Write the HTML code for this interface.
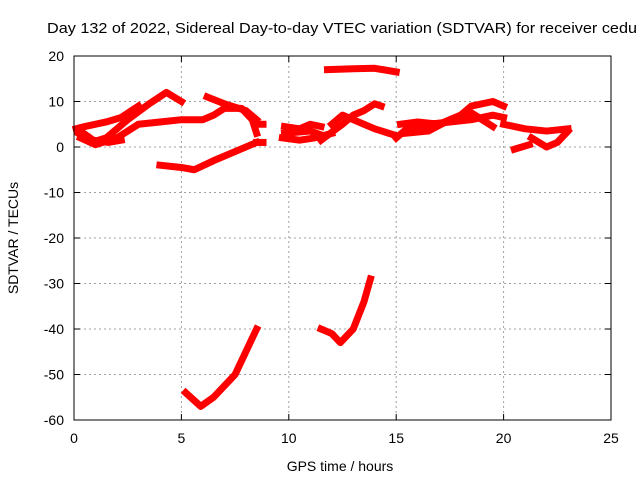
<!DOCTYPE html>
<html><head><meta charset="utf-8"><style>
body{margin:0;background:#fff}
svg{display:block;font-family:"Liberation Sans",sans-serif}
</style></head><body>
<svg id="c" width="640" height="480">
<text x="47" y="33" font-size="15" textLength="590" lengthAdjust="spacingAndGlyphs">Day 132 of 2022, Sidereal Day-to-day VTEC variation (SDTVAR) for receiver cedu</text>
<text x="340" y="471" font-size="14" text-anchor="middle">GPS time / hours</text>
<text transform="translate(18,238) rotate(-90)" font-size="14" text-anchor="middle">SDTVAR / TECUs</text>
<g id="grid"></g><g id="marks"></g><g id="axes"></g>
</svg>
<script>
const xTicks=[0,5,10,15,20,25];
const yTicks=[20,10,0,-10,-20,-30,-40,-50,-60];
const traceA=[[0.1,4],[0.5,4.5],[1.5,5.5],[2.2,6.5],[3,9]];
const traceB=[[0.2,3],[0.8,1],[1.5,2],[2.5,6],[3.5,9.5],[4.3,12],[5,10]];
const traceC=[[0.3,2],[1,0.5],[2,2],[3,5],[4,5.5],[5,6],[6,6],[6.5,7],[7,8.5],[7.8,8.5],[8.3,6],[8.5,3]];
const traceD=[[0.3,3.5],[0.9,1.5],[1.6,1],[2.2,1.5]];
const traceE=[[6.2,11],[7,9.5],[8,8],[8.5,6]];
const traceF=[[4,-4],[5,-4.5],[5.6,-5],[6.5,-3],[7.5,-1],[8.5,1]];
const traceG1=[[8.5,5],[8.8,5]];
const traceG2=[[8.5,1],[8.8,1]];
const traceH1=[[9.8,4.5],[10.5,4],[11,5],[11.5,4.5]];
const traceH2=[[9.7,2],[10.5,1.5],[11.2,2],[12,3]];
const traceH3=[[9.8,3],[11,3.5],[11.6,2.5]];
const traceI1=[[11.5,1.5],[12.5,5],[13,7],[13.5,8],[14,9.5],[14.3,9]];
const traceI2=[[12,5],[12.5,7],[13,6],[14,4],[15,2.5]];
const traceJ=[[11.8,17],[13,17.2],[14,17.3],[15,16.5]];
const traceK1=[[15,2],[15.5,4],[16.5,5],[17.5,5.5],[18.5,6],[19.5,7],[20,6.5]];
const traceK2=[[15.2,5],[16,5.5],[17,5],[18,7],[18.5,9],[19.5,10],[20,9]];
const traceK3=[[15.4,3],[16.5,3.5],[17.5,6],[18.5,7.5],[19.5,4.5]];
const traceL1=[[20,5],[21,4],[22,3.5],[23,4]];
const traceL2=[[21.3,2],[22,0],[22.5,1],[23,3.5]];
const traceL3=[[20.5,-0.5],[21.2,0.5]];
const traceM=[[5.2,-54],[5.9,-57],[6.5,-55],[7.5,-50],[8.5,-40]];
const traceN=[[11.5,-40],[12,-41],[12.4,-43],[13,-40],[13.5,-34],[13.8,-29]];
const traces=[traceA,traceB,traceC,traceD,traceE,traceF,traceG1,traceG2,traceH1,traceH2,traceH3,traceI1,traceI2,traceJ,traceK1,traceK2,traceK3,traceL1,traceL2,traceL3,traceM,traceN];

const X0=74,X1=611,Y0=420,Y1=56;
const sx=v=>X0+(v-0)/(25-0)*(X1-X0);
const sy=v=>Y0-(v+60)/(80)*(Y0-Y1);
const NS="http://www.w3.org/2000/svg";
function mk(t,a,p){const e=document.createElementNS(NS,t);for(const k in a)e.setAttribute(k,a[k]);p.appendChild(e);return e;}
const grid=document.getElementById('grid'),axes=document.getElementById('axes'),marks=document.getElementById('marks');
xTicks.forEach(t=>{
  const x=sx(t);
  if(t>0&&t<25){const g=mk('line',{x1:x,x2:x,y1:Y1,y2:Y0,stroke:'#a0a0a0','stroke-dasharray':'2,3'},grid);
  }
  mk('line',{x1:x,x2:x,y1:Y0,y2:Y0-6,stroke:'#000'},axes);
  mk('line',{x1:x,x2:x,y1:Y1,y2:Y1+6,stroke:'#000'},axes);
  const l=mk('text',{x:x,y:Y0+23,'font-size':14,'text-anchor':'middle'},axes);l.textContent=t;
  
});
yTicks.forEach(t=>{
  const y=sy(t);
  if(t>-60&&t<20){const g=mk('line',{x1:X0,x2:X1,y1:y,y2:y,stroke:'#a0a0a0','stroke-dasharray':'2,3'},grid);
  }
  mk('line',{x1:X0,x2:X0+6,y1:y,y2:y,stroke:'#000'},axes);
  mk('line',{x1:X1,x2:X1-6,y1:y,y2:y,stroke:'#000'},axes);
  const l=mk('text',{x:X0-10,y:y+5,'font-size':14,'text-anchor':'end'},axes);l.textContent=t;
  
});
const fr=mk('rect',{x:X0,y:Y1,width:X1-X0,height:Y0-Y1,fill:'none',stroke:'#000'},axes);

traces.forEach(tr=>{
  const p=mk('polyline',{points:tr.map(d=>sx(d[0])+','+sy(d[1])).join(' '),fill:'none',stroke:'#ff0000','stroke-width':7,'stroke-linejoin':'round','stroke-linecap':'square'},marks);
  
  
});
</script>
</body></html>
